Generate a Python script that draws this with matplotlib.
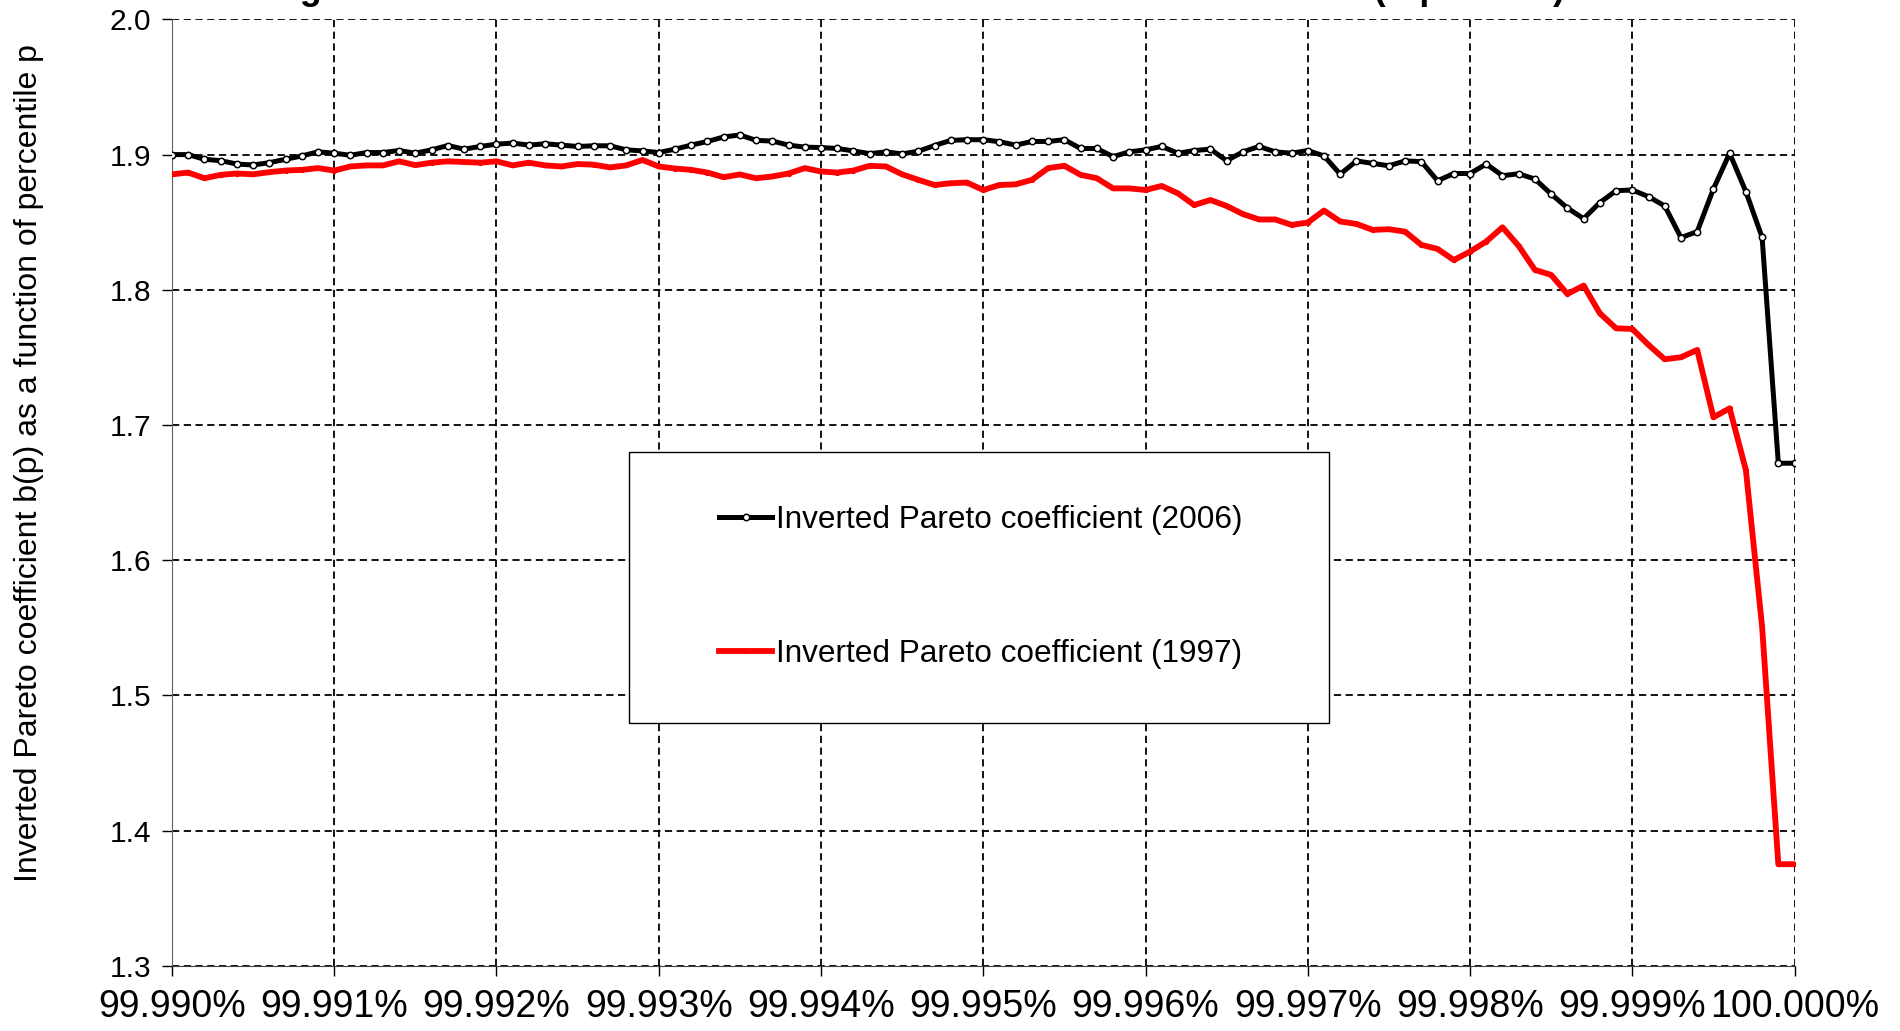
import numpy as np
import matplotlib
matplotlib.use("Agg")
import matplotlib.pyplot as plt
from matplotlib.legend_handler import HandlerLine2D

plt.rcParams['font.family'] = ['Liberation Sans', 'DejaVu Sans']

# percentile grid: 99.990% .. 100.000% in steps of 0.0001%
percentiles = np.round(99.990 + 0.0001 * np.arange(101), 4)

b_2006 = [
    1.900, 1.900, 1.8965, 1.8955, 1.893, 1.8923, 1.894, 1.8965, 1.899, 1.902,
    1.901, 1.8995, 1.9015, 1.9015, 1.903, 1.901, 1.9035, 1.9067, 1.904, 1.906,
    1.9077, 1.9085, 1.907, 1.908, 1.907, 1.906, 1.9065, 1.9065, 1.9035, 1.9027,
    1.9015, 1.904, 1.907, 1.9097, 1.913, 1.9145, 1.9105, 1.910, 1.907, 1.9055,
    1.9052, 1.9045, 1.9027, 1.9007, 1.902, 1.9005, 1.9025, 1.9067, 1.9105, 1.911,
    1.911, 1.9095, 1.907, 1.9097, 1.9097, 1.911, 1.9045, 1.9045, 1.8985, 1.902,
    1.9035, 1.906, 1.901, 1.903, 1.904, 1.8955, 1.902, 1.906, 1.902, 1.901,
    1.903, 1.899, 1.8855, 1.8953, 1.8935, 1.8917, 1.8953, 1.8948, 1.8806, 1.886,
    1.886, 1.893, 1.8844, 1.8858, 1.8819, 1.8708, 1.8605, 1.8526, 1.8645, 1.8733,
    1.8738, 1.8689, 1.862, 1.8386, 1.843, 1.8746, 1.901, 1.8726, 1.8388, 1.6717,
    1.6717,
]

b_1997 = [
    1.8854, 1.8867, 1.8825, 1.885, 1.886, 1.8854, 1.887, 1.8882, 1.8887, 1.890,
    1.8882, 1.8912, 1.892, 1.892, 1.895, 1.8922, 1.894, 1.895, 1.8945, 1.894,
    1.895, 1.892, 1.894, 1.892, 1.8912, 1.893, 1.8925, 1.8905, 1.892, 1.896,
    1.8912, 1.8897, 1.8887, 1.8867, 1.8833, 1.8853, 1.8825, 1.8838, 1.886, 1.890,
    1.8875, 1.8867, 1.8882, 1.8917, 1.8912, 1.8854, 1.8813, 1.8775, 1.8788, 1.8793,
    1.8738, 1.8775, 1.878, 1.8813, 1.890, 1.8917, 1.885, 1.8825, 1.875, 1.875,
    1.8738, 1.8768, 1.8713, 1.8627, 1.8664, 1.862, 1.856, 1.852, 1.852, 1.848,
    1.8497, 1.8586, 1.8505, 1.8487, 1.8443, 1.8448, 1.843, 1.8332, 1.8302, 1.822,
    1.8282, 1.8357, 1.8462, 1.8324, 1.8147, 1.811, 1.7969, 1.8031, 1.7826, 1.7715,
    1.771, 1.7592, 1.7486, 1.7501, 1.7555, 1.7057, 1.7123, 1.6667, 1.5508, 1.3751,
    1.3751,
]

x_ticks = [99.990, 99.991, 99.992, 99.993, 99.994, 99.995, 99.996, 99.997, 99.998, 99.999, 100.000]
y_ticks = [1.3, 1.4, 1.5, 1.6, 1.7, 1.8, 1.9, 2.0]

fig = plt.figure(figsize=(19, 10.31), dpi=100)
ax = fig.add_axes([0.0905, 0.0633, 0.854, 0.9179])

grid_style = dict(color='black', linestyle=(0, (4, 2.5)), linewidth=1.3)
ax.grid(True, **grid_style)
ax.set_axisbelow(True)

l2006, = ax.plot(percentiles, b_2006, color='black', lw=3.6, marker='o', ms=4.6,
                 mfc='white', mec='black', mew=1.1,
                 label='Inverted Pareto coefficient (2006)', zorder=4)
l1997, = ax.plot(percentiles, b_1997, color='#ff0000', lw=4.2, marker='o', ms=2.8,
                 mfc='#ff0000', mec='#ff0000',
                 label='Inverted Pareto coefficient (1997)', zorder=3)

ax.set_xlim(99.990, 100.000)
ax.set_ylim(1.3, 2.0)
ax.set_xticks(x_ticks)
ax.set_xticklabels([f"{v:.3f}%" for v in x_ticks], fontsize=27)
ax.set_yticks(y_ticks)
ax.set_yticklabels([f"{v:.1f}" for v in y_ticks], fontsize=21.5)
ax.tick_params(direction='out', length=7, width=1, colors='black', pad=8)
ax.tick_params(axis='x', pad=10)

for side in ['top', 'right']:
    ax.spines[side].set_visible(False)
ax.spines['left'].set_color('#606060')
ax.spines['bottom'].set_color('#404040')

ax.set_ylabel('Inverted Pareto coefficient b(p) as a function of percentile p', fontsize=23)
ax.yaxis.set_label_coords(-0.079, 0.531)

# shift the legend handles right so the entries sit in the middle of the box
hpad = 1.15
handler = {l2006: HandlerLine2D(xpad=hpad), l1997: HandlerLine2D(xpad=hpad)}
leg = ax.legend(handles=[l2006, l1997], handler_map=handler,
                loc='lower left', bbox_to_anchor=(0.2817, 0.2565, 0.4314, 0.2885),
                mode='expand', borderaxespad=0, fontsize=22.7, frameon=True,
                fancybox=False, edgecolor='black', framealpha=1,
                handlelength=1.7 + hpad, handletextpad=0.1, borderpad=1.7,
                labelspacing=3.3)
leg.get_frame().set_linewidth(1.0)

# title sits almost entirely above the top edge, as in the source image
fig.text(268 / 1900, 1 + 1 / 1031,
         'Figure 7: Inverted Pareto coefficients in France in 1997 and 2006 (top 0.01%)',
         fontsize=25.8, fontweight='bold', ha='left', va='baseline')

fig.savefig('out.png', dpi=100)
